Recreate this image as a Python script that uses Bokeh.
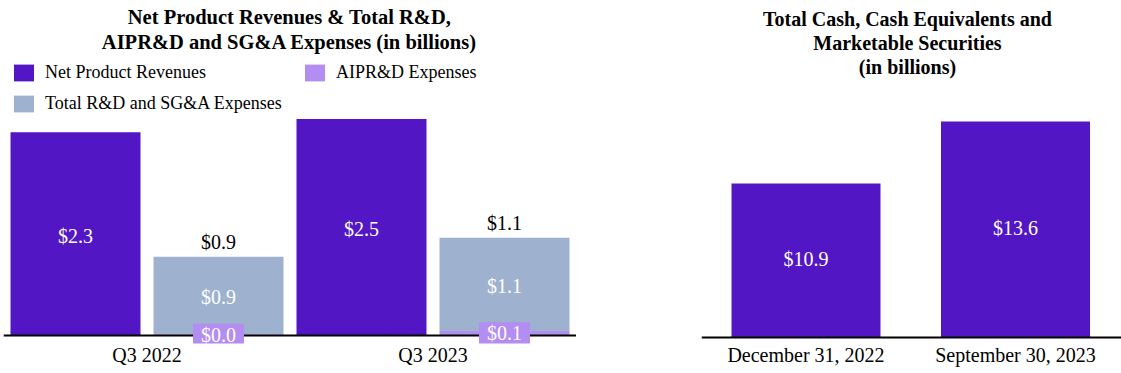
from bokeh.plotting import figure
from bokeh.models import (ColumnDataSource, Range1d, LabelSet, Label, Legend,
                          LegendItem, FixedTicker, Span)
from bokeh.layouts import row
from bokeh.embed import file_html
from bokeh.resources import INLINE
from bokeh.core.properties import value

# ---------------- data ----------------
quarters = ["Q3 2022", "Q3 2023"]
net_product_revenues = [2.31, 2.46]
rnd_sga_expenses = [0.88, 1.06]
aiprd_expenses = [0.015, 0.05]

cash_dates = ["December 31, 2022", "September 30, 2023"]
cash_values = [10.9, 13.6]
cash_axis_start = 4.19   # the cash chart's value axis does not start at zero

# ---------------- style ----------------
FONT = "Liberation Serif"
C_REV = "#5216C4"
C_RND = "#9EB1CE"
C_AIP = "#B38DF1"
H = 373
BB = 30            # bottom border of both figures
FB = H - BB        # frame bottom (page px), identical for both figures

def base_fig(width, x_range, y_range, border_left, baseline):
    p = figure(width=width, height=H, x_range=x_range, y_range=y_range,
               output_backend="svg", toolbar_location=None, tools="")
    p.min_border_left = border_left
    p.min_border_right = 0
    p.min_border_top = 0
    p.min_border_bottom = BB
    p.outline_line_color = None
    p.grid.visible = False
    p.yaxis.visible = False
    ax = p.xaxis[0]
    ax.axis_line_color = None
    ax.major_tick_line_color = None
    ax.minor_tick_line_color = None
    ax.major_tick_out = 0
    ax.major_tick_in = 0
    ax.minor_tick_out = 0
    ax.major_label_text_font = FONT
    ax.major_label_text_font_size = "20px"
    ax.major_label_text_color = "black"
    ax.major_label_standoff = 0
    # the baseline rule of the value axis
    p.add_layout(Span(location=baseline, dimension="width", line_color="black",
                      line_width=2))
    return p

lbl_kw = dict(text_font=value(FONT), text_font_size="20px",
              text_align="center", text_baseline="middle")
title_kw = dict(x_units="screen", y_units="screen", text_font=FONT,
                text_font_style="bold", text_align="center",
                text_baseline="middle", text_color="black")

# ---------------- left chart ----------------
PX1 = 143.0
PY1 = 88.0
W1 = 576
BL1 = 3
BASE1 = 335          # baseline (page px)
x0 = -(75 - BL1) / PX1
x_range1 = Range1d(x0, x0 + (W1 - BL1) / PX1)
y_range1 = Range1d(-(FB - BASE1) / PY1, BASE1 / PY1)
p1 = base_fig(W1, x_range1, y_range1, BL1, 0)

n = len(quarters)
rev_x = [2 * i for i in range(n)]
exp_x = [2 * i + 1 for i in range(n)]
rnd_top = [a + r for a, r in zip(aiprd_expenses, rnd_sga_expenses)]

rev_src = ColumnDataSource(dict(
    x=rev_x, top=net_product_revenues,
    mid=[v / 2 for v in net_product_revenues],
    text=[f"${v:.1f}" for v in net_product_revenues]))
exp_src = ColumnDataSource(dict(
    x=exp_x, aip=aiprd_expenses, rnd_top=rnd_top,
    rnd_mid=[a + r / 2 for a, r in zip(aiprd_expenses, rnd_sga_expenses)],
    rnd_text=[f"${v:.1f}" for v in rnd_sga_expenses],
    tot_text=[f"${v:.1f}" for v in rnd_top]))

BW1 = 130 / PX1
r_rev = p1.vbar(x="x", top="top", bottom=0, width=BW1, source=rev_src,
                fill_color=C_REV, line_color=None)
r_aip = p1.vbar(x="x", top="aip", bottom=0, width=BW1, source=exp_src,
                fill_color=C_AIP, line_color=None)
r_rnd = p1.vbar(x="x", top="rnd_top", bottom="aip", width=BW1, source=exp_src,
                fill_color=C_RND, line_color=None)

p1.add_layout(LabelSet(x="x", y="mid", text="text", source=rev_src,
                       text_color="white", y_offset=-2, **lbl_kw))
p1.add_layout(LabelSet(x="x", y="rnd_mid", text="rnd_text", source=exp_src,
                       text_color="white", y_offset=-2, **lbl_kw))
p1.add_layout(LabelSet(x="x", y="rnd_top", text="tot_text", source=exp_src,
                       text_color="black", y_offset=15, **lbl_kw))
for xx, a in zip(exp_x, aiprd_expenses):
    p1.add_layout(Label(x=xx, y=a / 2, text=f"${a:.1f}", text_font=FONT,
                        text_font_size="20px", text_color="white",
                        text_align="center", text_baseline="middle",
                        background_fill_color=C_AIP,
                        padding=dict(left=8, right=8, top=0, bottom=0)))

p1.xaxis.ticker = FixedTicker(ticks=[2 * i + 0.5 for i in range(n)])
p1.xaxis.major_label_overrides = {2 * i + 0.5: q for i, q in enumerate(quarters)}

legend = Legend(items=[
    LegendItem(label="Net Product Revenues", renderers=[r_rev]),
    LegendItem(label="Total R&D and SG&A Expenses", renderers=[r_rnd]),
    LegendItem(label="AIPR&D Expenses", renderers=[r_aip]),
], location=(8, FB - 114), orientation="vertical", nrows=2)
legend.glyph_width = 25
legend.glyph_height = 21
legend.label_height = 21
legend.label_width = 247
legend.label_standoff = 9
legend.spacing = 10
legend.padding = 0
legend.margin = 0
legend.border_line_color = None
legend.background_fill_alpha = 0
legend.label_text_font = FONT
legend.label_text_font_size = "18px"
legend.label_text_color = "black"
p1.add_layout(legend)

for txt, yy in [("Net Product Revenues & Total R&D,", FB - 16.5),
                ("AIPR&D and SG&A Expenses (in billions)", FB - 41.5)]:
    p1.add_layout(Label(x=289 - BL1, y=yy, text=txt, text_font_size="20.5px",
                        **title_kw))

# ---------------- right chart ----------------
PX2 = 209.5
PY2 = 22.96
W2 = 545
BL2 = 125
BASE2 = 337
Y0 = cash_axis_start
x02 = -(805.5 - (W1 + BL2)) / PX2
x_range2 = Range1d(x02, x02 + (W2 - BL2) / PX2)
y_range2 = Range1d(Y0 - (FB - BASE2) / PY2, Y0 + BASE2 / PY2)
p2 = base_fig(W2, x_range2, y_range2, BL2, Y0)

cash_src = ColumnDataSource(dict(
    x=list(range(len(cash_dates))), top=cash_values,
    mid=[(Y0 + v) / 2 for v in cash_values],
    text=[f"${v:.1f}" for v in cash_values]))
p2.vbar(x="x", top="top", bottom=Y0, width=149 / PX2, source=cash_src,
        fill_color=C_REV, line_color=None)
p2.add_layout(LabelSet(x="x", y="mid", text="text", source=cash_src,
                       text_color="white", y_offset=1, **lbl_kw))
p2.xaxis.ticker = FixedTicker(ticks=list(range(len(cash_dates))))
p2.xaxis.major_label_overrides = {i: d for i, d in enumerate(cash_dates)}

for txt, yy in [("Total Cash, Cash Equivalents and", FB - 18),
                ("Marketable Securities", FB - 42.5),
                ("(in billions)", FB - 66)]:
    p2.add_layout(Label(x=907 - W1 - BL2, y=yy, text=txt, text_font_size="20px",
                        **title_kw))

layout = row(p1, p2, spacing=0)
open("out.html", "w").write(file_html(layout, INLINE))
